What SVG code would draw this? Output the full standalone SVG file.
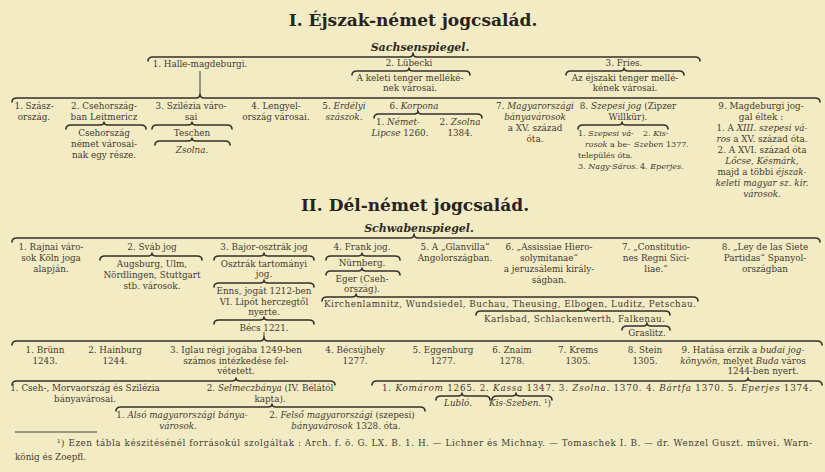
<svg xmlns="http://www.w3.org/2000/svg" width="825" height="472" viewBox="0 0 825 472">
<style>
text{font-family:"DejaVu Serif","Liberation Serif",serif;font-size:8.8px;fill:#3f3a33;text-anchor:middle}
.i{font-style:italic}
.l{text-anchor:start}
.sm{font-size:8px}
.h{font-size:17px;font-weight:bold;fill:#27231e}
.s{font-size:11px;font-weight:bold;font-style:italic;fill:#2e2a25}
.b{fill:none;stroke:#35302a;stroke-width:1.6;stroke-linecap:round;stroke-linejoin:round}
.v{fill:none;stroke:#35302a;stroke-width:0.9}
</style>
<rect width="825" height="472" fill="#f3ebc3"/>
<g id="connectors">
<path class="b" d="M148 61 Q148 57 153 57 L409 57 Q413 57 413 53 Q413 57 417 57 L695 57 Q700 57 700 61"/>
<path class="b" d="M352 75 Q352 71 357 71 L405 71 Q409 71 409 68 Q409 71 413 71 L465 71 Q470 71 470 75"/>
<path class="b" d="M566 75 Q566 71 571 71 L620 71 Q624 71 624 68 Q624 71 628 71 L679 71 Q684 71 684 75"/>
<path class="v" d="M200 71 L200 94"/>
<path class="b" d="M12 102 Q12 98 17 98 L196 98 Q200 98 200 94 Q200 98 204 98 L815 98 Q820 98 820 102"/>
<path class="b" d="M66 129 Q66 125 71 125 L100 125 Q104 125 104 122 Q104 125 108 125 L141 125 Q146 125 146 129"/>
<path class="b" d="M152 129 Q152 125 157 125 L188 125 Q192 125 192 122 Q192 125 196 125 L227 125 Q232 125 232 129"/>
<path class="b" d="M155 145 Q155 141 160 141 L188 141 Q192 141 192 138 Q192 141 196 141 L225 141 Q230 141 230 145"/>
<path class="b" d="M374 118 Q374 114 379 114 L414 114 Q418 114 418 111 Q418 114 422 114 L477 114 Q482 114 482 118"/>
<path class="b" d="M578 129 Q578 125 583 125 L618 125 Q622 125 622 122 Q622 125 626 125 L663 125 Q668 125 668 129"/>
<path class="b" d="M12 242 Q12 238 17 238 L410 238 Q414 238 414 234 Q414 238 418 238 L815 238 Q820 238 820 242"/>
<path class="b" d="M100 260 Q100 256 105 256 L148 256 Q152 256 152 253 Q152 256 156 256 L197 256 Q202 256 202 260"/>
<path class="b" d="M214 260 Q214 256 219 256 L260 256 Q264 256 264 253 Q264 256 268 256 L309 256 Q314 256 314 260"/>
<path class="b" d="M214 287 Q214 283 219 283 L260 283 Q264 283 264 280 Q264 283 268 283 L309 283 Q314 283 314 287"/>
<path class="b" d="M214 324 Q214 320 219 320 L260 320 Q264 320 264 317 Q264 320 268 320 L309 320 Q314 320 314 324"/>
<path class="v" d="M264 332 L264 337"/>
<path class="b" d="M326 260 Q326 256 331 256 L358 256 Q362 256 362 253 Q362 256 366 256 L395 256 Q400 256 400 260"/>
<path class="b" d="M326 275 Q326 271 331 271 L358 271 Q362 271 362 268 Q362 271 366 271 L395 271 Q400 271 400 275"/>
<path class="b" d="M322 301 Q322 297 327 297 L352 297 Q356 297 356 294 Q356 297 360 297 L693 297 Q698 297 698 301"/>
<path class="b" d="M476 315 Q476 311 481 311 L584 311 Q588 311 588 308 Q588 311 592 311 L665 311 Q670 311 670 315"/>
<path class="b" d="M622 330 Q622 326 627 326 L643 326 Q647 326 647 323 Q647 326 651 326 L665 326 Q670 326 670 330"/>
<path class="b" d="M12 345 Q12 341 17 341 L260 341 Q264 341 264 337 Q264 341 268 341 L817 341 Q822 341 822 345"/>
<path class="b" d="M12 385 Q12 381 17 381 L232 381 Q236 381 236 378 Q236 381 240 381 L330 381 Q335 381 335 385"/>
<path class="b" d="M372 385 Q372 381 377 381 L744 381 Q748 381 748 378 Q748 381 752 381 L817 381 Q822 381 822 385"/>
<path class="b" d="M116 411 Q116 407 121 407 L268 407 Q272 407 272 404 Q272 407 276 407 L420 407 Q425 407 425 411"/>
<path class="b" d="M436 400 Q436 396 441 396 L458 396 Q462 396 462 393 Q462 396 466 396 L485 396 Q490 396 490 400"/>
<path class="b" d="M492 400 Q492 396 497 396 L512 396 Q516 396 516 393 Q516 396 520 396 L547 396 Q552 396 552 400"/>
<path class="v" d="M15 432 L97 432"/>
</g>

<g id="title1"><text class="h" x="413" y="26">I. Éjszak-német jogcsalád.</text></g>
<g id="sachsenspiegel"><text class="s" x="420" y="51">Sachsenspiegel.</text></g>
<g id="halle"><text x="200" y="67">1. Halle-magdeburgi.</text></g>
<g id="lubecki"><text x="409" y="66">2. Lübecki</text>
<text x="410" y="81">A keleti tenger melléké-</text><text x="410" y="91">nek városai.</text></g>
<g id="fries"><text x="624" y="66">3. Fries.</text>
<text x="625" y="81">Az éjszaki tenger mellé-</text><text x="625" y="91">kének városai.</text></g>

<g id="i1"><text x="34" y="109">1. Szász-</text><text x="34" y="120">ország.</text></g>
<g id="i2"><text x="104" y="109">2. Csehország-</text><text x="104" y="120">ban Leitmericz</text>
<text x="104" y="136">Csehország</text><text x="104" y="147">német városai-</text><text x="104" y="158">nak egy része.</text></g>
<g id="i3"><text x="191" y="109">3. Szilézia váro-</text><text x="191" y="120">sai</text>
<text x="192" y="136">Teschen</text><text class="i" x="192" y="153">Zsolna.</text></g>
<g id="i4"><text x="276" y="109">4. Lengyel-</text><text x="276" y="120">ország városai.</text></g>
<g id="i5"><text x="344" y="109">5. <tspan class="i">Erdélyi</tspan></text><text class="i" x="344" y="120">szászok.</text></g>
<g id="i6"><text x="414" y="109">6. <tspan class="i">Korpona</tspan></text>
<text x="398" y="125">1. <tspan class="i">Német-</tspan></text><text x="400" y="136"><tspan class="i">Lipcse</tspan> 1260.</text>
<text x="460" y="125">2. <tspan class="i">Zsolna</tspan></text><text x="460" y="136">1384.</text></g>
<g id="i7"><text x="535" y="109">7. <tspan class="i">Magyarországi</tspan></text><text class="i" x="535" y="120">bányavárosok</text>
<text x="535" y="131">a XV. század</text><text x="535" y="142">óta.</text></g>
<g id="i8"><text x="628" y="109">8. <tspan class="i">Szepesi jog</tspan> (Zipzer</text><text x="628" y="120">Willkür).</text>
<text class="l sm" x="578" y="136">1. <tspan class="i">Szepesi vá-</tspan></text>
<text class="l sm" x="585" y="147"><tspan class="i">rosok</tspan> a be-</text>
<text class="l sm" x="578" y="158">település óta.</text>
<text class="l sm" x="643" y="136">2. <tspan class="i">Kis-</tspan></text>
<text class="l sm" x="634" y="147"><tspan class="i">Szeben</tspan> 1377.</text>
<text class="l sm" x="578" y="169">3. <tspan class="i">Nagy-Sáros.</tspan></text>
<text class="l sm" x="640" y="169">4. <tspan class="i">Eperjes.</tspan></text></g>
<g id="i9"><text x="761" y="109">9. Magdeburgi jog-</text><text x="761" y="120">gal éltek :</text>
<text x="762" y="131">1. A <tspan class="i">XIII. szepesi vá-</tspan></text>
<text x="762" y="142"><tspan class="i">ros</tspan> a XV. század óta.</text>
<text x="762" y="153">2. A XVI. század óta</text>
<text class="i" x="762" y="164">Lőcse, Késmárk,</text>
<text x="762" y="175">majd a többi <tspan class="i">éjszak-</tspan></text>
<text class="i" x="762" y="186">keleti magyar sz. kir.</text>
<text class="i" x="762" y="197">városok.</text></g>

<g id="title2"><text class="h" x="415" y="211">II. Dél-német jogcsalád.</text></g>
<g id="schwabenspiegel"><text class="s" x="419" y="232">Schwabenspiegel.</text></g>
<g id="ii1"><text x="51" y="250">1. Rajnai váro-</text><text x="51" y="261">sok Köln joga</text><text x="51" y="272">alapján.</text></g>
<g id="ii2"><text x="152" y="250">2. Sváb jog</text>
<text x="152" y="267">Augsburg, Ulm,</text><text x="152" y="278">Nördlingen, Stuttgart</text><text x="152" y="289">stb. városok.</text></g>
<g id="ii3"><text x="264" y="250">3. Bajor-osztrák jog</text>
<text x="264" y="267">Osztrák tartományi</text><text x="264" y="277">jog.</text>
<text x="264" y="294">Enns, jogát 1212-ben</text><text x="264" y="305">VI. Lipót herczegtől</text><text x="264" y="315">nyerte.</text>
<text x="264" y="331">Bécs 1221.</text></g>
<g id="ii4"><text x="362" y="250">4. Frank jog.</text>
<text x="362" y="266">Nürnberg.</text>
<text x="362" y="282">Eger (Cseh-</text><text x="362" y="292">ország).</text>
<text class="l" x="324" y="307" textLength="372" lengthAdjust="spacing">Kirchenlamnitz, Wundsiedel, Buchau, Theusing, Elbogen, Luditz, Petschau.</text>
<text class="l" x="484" y="322" textLength="181" lengthAdjust="spacing">Karlsbad, Schlackenwerth, Falkenau.</text>
<text x="647" y="336">Graslitz.</text></g>
<g id="ii5"><text x="455" y="250">5. A „Glanvilla“</text><text x="455" y="261">Angolországban.</text></g>
<g id="ii6"><text x="549" y="250">6. „Assissiae Hiero-</text><text x="549" y="261">solymitanae“</text><text x="549" y="272">a jeruzsálemi király-</text><text x="549" y="283">ságban.</text></g>
<g id="ii7"><text x="656" y="250">7. „Constitutio-</text><text x="656" y="261">nes Regni Sici-</text><text x="656" y="272">liae.“</text></g>
<g id="ii8"><text x="765" y="250">8. „Ley de las Siete</text><text x="765" y="261">Partidas“ Spanyol-</text><text x="765" y="272">országban</text></g>

<g id="c1"><text x="45" y="353">1. Brünn</text><text x="45" y="364">1243.</text></g>
<g id="c2"><text x="115" y="353">2. Hainburg</text><text x="115" y="364">1244.</text></g>
<g id="c3"><text x="236" y="353">3. Iglau régi jogába 1249-ben</text><text x="236" y="364">számos intézkedése fel-</text><text x="236" y="374">vétetett.</text></g>
<g id="c4"><text x="355" y="353">4. Bécsújhely</text><text x="355" y="364">1277.</text></g>
<g id="c5"><text x="443" y="353">5. Eggenburg</text><text x="443" y="364">1277.</text></g>
<g id="c6"><text x="512" y="353">6. Znaim</text><text x="512" y="364">1278.</text></g>
<g id="c7"><text x="578" y="353">7. Krems</text><text x="578" y="364">1305.</text></g>
<g id="c8"><text x="645" y="353">8. Stein</text><text x="645" y="364">1305.</text></g>
<g id="c9"><text x="743" y="353">9. Hatása érzik a <tspan class="i">budai jog-</tspan></text>
<text x="743" y="364"><tspan class="i">könyvön</tspan>, melyet <tspan class="i">Buda</tspan> város</text>
<text x="763" y="374">1244-ben nyert.</text></g>

<g id="d1"><text x="85" y="391">1. Cseh-, Morvaország és Szilézia</text><text x="85" y="402">bányavárosai.</text></g>
<g id="d2"><text x="270" y="391">2. <tspan class="i">Selmeczbánya</tspan> (IV. Bélától</text><text x="270" y="402">kapta).</text></g>
<g id="e1"><text x="182" y="418">1. <tspan class="i">Alsó magyarországi bánya-</tspan></text><text class="i" x="178" y="429">városok.</text></g>
<g id="e2"><text x="342" y="418">2. <tspan class="i">Felső magyarországi</tspan> (szepesi)</text><text x="346" y="429"><tspan class="i">bányavárosok</tspan> 1328. óta.</text></g>
<g id="f1"><text class="l" x="382" y="391" textLength="430" lengthAdjust="spacing">1. <tspan class="i">Komárom</tspan> 1265. 2. <tspan class="i">Kassa</tspan> 1347. 3. <tspan class="i">Zsolna.</tspan> 1370. 4. <tspan class="i">Bártfa</tspan> 1370. 5. <tspan class="i">Eperjes</tspan> 1374.</text></g>
<g id="f2"><text class="i" x="458" y="406">Lubló.</text><text x="520" y="406"><tspan class="i">Kis-Szeben.</tspan> ¹)</text></g>

<g id="footnote">
<text class="l" x="57" y="446" textLength="755" lengthAdjust="spacing">¹) Ezen tábla készitésénél forrásokúl szolgáltak : Arch. f. ö. G. LX. B. 1. H. — Lichner és Michnay. — Tomaschek I. B. — dr. Wenzel Guszt. müvei. Warn-</text>
<text class="l" x="15" y="460">könig és Zoepfl.</text>
</g>
</svg>
